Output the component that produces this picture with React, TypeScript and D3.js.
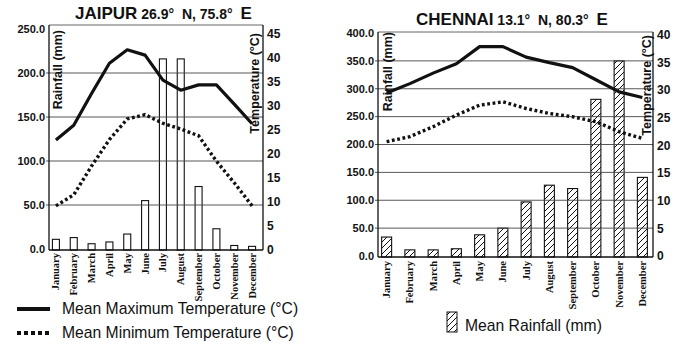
import React from "react";
import * as d3 from "d3";

const months = ["January","February","March","April","May","June","July","August","September","October","November","December"];

const jaipurRain = [11, 13, 6, 8, 17, 55, 216, 216, 71, 23, 4, 3];
const jaipurMax = [22.9, 26.0, 32.6, 38.9, 41.7, 40.6, 35.4, 33.3, 34.4, 34.4, 30.4, 26.3];
const jaipurMin = [9.2, 11.5, 17.5, 23.0, 27.3, 28.2, 26.4, 25.2, 23.8, 18.5, 14.0, 9.2];

const chennaiRain = [34, 11, 11, 13, 38, 50, 97, 127, 121, 281, 350, 141];
const chennaiMax = [29.5, 31.2, 33.1, 34.8, 37.9, 37.9, 36.0, 35.0, 34.1, 31.9, 29.7, 28.7];
const chennaiMin = [20.7, 21.6, 23.4, 25.5, 27.3, 27.9, 26.7, 25.8, 25.2, 24.3, 22.5, 21.3];

const jaipurRainTicks = [0, 50, 100, 150, 200, 250];
const jaipurTempTicks = [0, 5, 10, 15, 20, 25, 30, 35, 40, 45];
const chennaiRainTicks = [0, 50, 100, 150, 200, 250, 300, 350, 400];
const chennaiTempTicks = [0, 5, 10, 15, 20, 25, 30, 35, 40];

const SANS = "Arial, 'Liberation Sans', sans-serif";
const SERIF = "'Times New Roman', 'Liberation Serif', serif";

type PanelProps = {
  id: string;
  name: string;
  lat: string;
  lon: string;
  rain: number[];
  tmax: number[];
  tmin: number[];
  rainTicks: number[];
  tempTicks: number[];
  left: number; right: number; top: number; bottom: number;
  bandRange: [number, number];
  rainRange: [number, number];
  tempRange: [number, number];
  barWidth: number;
  hatched: boolean;
  titleX: number; titleY: number;
  monthY: number;
  rainTitle: [number, number];
  tempTitle: [number, number];
};

function Panel(p: PanelProps) {
  const x = d3.scaleBand<string>().domain(months).range(p.bandRange);
  const yR = d3.scaleLinear().domain([0, p.rainTicks[p.rainTicks.length - 1]]).range(p.rainRange);
  const yT = d3.scaleLinear().domain([0, p.tempTicks[p.tempTicks.length - 1]]).range(p.tempRange);
  const cx = (i: number) => (x(months[i]) as number) + x.bandwidth() / 2;
  const line = d3.line<number>().x((_, i) => cx(i)).y((d) => yT(d)).curve(d3.curveLinear);

  return (
    <g>
      <text x={p.titleX} y={p.titleY} fontFamily={SANS} fontWeight="bold" fill="#111">
        <tspan fontSize={17}>{p.name}</tspan>
        <tspan fontSize={14}>{" " + p.lat + "°\u00A0 N, " + p.lon + "°\u00A0 "}</tspan>
        <tspan fontSize={17}>E</tspan>
      </text>
      {/* frame top */}
      <line x1={p.left} x2={p.right} y1={p.top} y2={p.top} stroke="#666" strokeWidth={1} />
      {/* bars */}
      {p.rain.map((v, i) => (
        <rect key={i} x={cx(i) - p.barWidth / 2} y={yR(v)} width={p.barWidth} height={p.bottom - yR(v)}
          fill={p.hatched ? `url(#hatch-${p.id})` : "none"} stroke="#111" strokeWidth={1.1} />
      ))}
      {/* gridlines */}
      {p.rainTicks.filter((t) => t > 0 && t < p.rainTicks[p.rainTicks.length - 1]).map((t) => (
        <line key={t} x1={p.left - 3} x2={p.right} y1={yR(t)} y2={yR(t)} stroke="#444" strokeWidth={0.9} />
      ))}
      {/* axes */}
      <line x1={p.left} x2={p.left} y1={p.top} y2={p.bottom} stroke="#111" strokeWidth={1.3} />
      <line x1={p.right} x2={p.right} y1={p.top} y2={p.bottom} stroke="#111" strokeWidth={1.3} />
      <line x1={p.left} x2={p.right} y1={p.bottom} y2={p.bottom} stroke="#111" strokeWidth={1.3} />
      {/* left ticks */}
      {p.rainTicks.map((t) => (
        <text key={t} x={p.left - 4} y={yR(t)} dy="0.35em" textAnchor="end" fontFamily={SANS}
          fontWeight="bold" fontSize={11} fill="#111">{t.toFixed(1)}</text>
      ))}
      {/* right ticks */}
      {p.tempTicks.map((t) => (
        <text key={t} x={p.right + 4} y={yT(t)} dy="0.35em" textAnchor="start" fontFamily={SANS}
          fontWeight="bold" fontSize={12} fill="#111">{t}</text>
      ))}
      {/* month labels */}
      {months.map((m, i) => (
        <text key={m} transform={`translate(${cx(i) + 3.5},${p.monthY}) rotate(-90)`} textAnchor="end"
          fontFamily={SERIF} fontWeight="bold" fontSize={10.5} fill="#111">{m}</text>
      ))}
      {/* axis titles */}
      <text transform={`translate(${p.rainTitle[0]},${p.rainTitle[1]}) rotate(-90)`} textAnchor="end"
        fontFamily={SANS} fontWeight="bold" fontSize={12.5} fill="#111">Rainfall (mm)</text>
      <text transform={`translate(${p.tempTitle[0]},${p.tempTitle[1]}) rotate(-90)`} textAnchor="end"
        fontFamily={SANS} fontWeight="bold" fontSize={12.5} fill="#111">Temperature (°C)</text>
      {/* lines */}
      <path d={line(p.tmax) as string} fill="none" stroke="#111" strokeWidth={3.2} strokeLinejoin="round" />
      <path d={line(p.tmin) as string} fill="none" stroke="#111" strokeWidth={3.4} strokeDasharray="2.8,2.6" />
    </g>
  );
}

export default function App() {
  return (
    <svg width={680} height={359} style={{ position: "absolute", left: 0, top: 0, background: "#fff" }}>
      <defs>
        <pattern id="hatch-chennai" patternUnits="userSpaceOnUse" width={6} height={6}>
          <path d="M-1,7 L7,-1 M-1,1 L1,-1 M5,7 L7,5" stroke="#111" strokeWidth={1} />
        </pattern>
      </defs>
      <Panel id="jaipur" name="JAIPUR" lat="26.9" lon="75.8" rain={jaipurRain} tmax={jaipurMax} tmin={jaipurMin}
        rainTicks={jaipurRainTicks} tempTicks={jaipurTempTicks}
        left={49} right={263} top={25} bottom={250}
        bandRange={[47, 261]} rainRange={[249, 29]} tempRange={[250, 34]}
        barWidth={7} hatched={false} titleX={75} titleY={19} monthY={253}
        rainTitle={[62, 30]} tempTitle={[259, 33]} />
      <Panel id="chennai" name="CHENNAI" lat="13.1" lon="80.3" rain={chennaiRain} tmax={chennaiMax} tmin={chennaiMin}
        rainTicks={chennaiRainTicks} tempTicks={chennaiTempTicks}
        left={378} right={653} top={32} bottom={257}
        bandRange={[375, 654]} rainRange={[256, 33]} tempRange={[256, 35]}
        barWidth={10} hatched={true} titleX={416} titleY={25} monthY={261}
        rainTitle={[392, 32]} tempTitle={[651, 35]} />
      {/* legends */}
      <line x1={17} x2={50} y1={309} y2={309} stroke="#111" strokeWidth={4} />
      <text x={62} y={314} fontFamily={SANS} fontSize={15.7} fill="#111">Mean Maximum Temperature (°C)</text>
      <line x1={17} x2={50} y1={333} y2={333} stroke="#111" strokeWidth={4} strokeDasharray="4,3" />
      <text x={62} y={338} fontFamily={SANS} fontSize={15.7} fill="#111">Mean Minimum Temperature (°C)</text>
      <rect x={447} y={312} width={10} height={20} fill="url(#hatch-chennai)" stroke="#111" strokeWidth={1} />
      <text x={465} y={331} fontFamily={SANS} fontSize={15.7} fill="#111">Mean Rainfall (mm)</text>
    </svg>
  );
}
